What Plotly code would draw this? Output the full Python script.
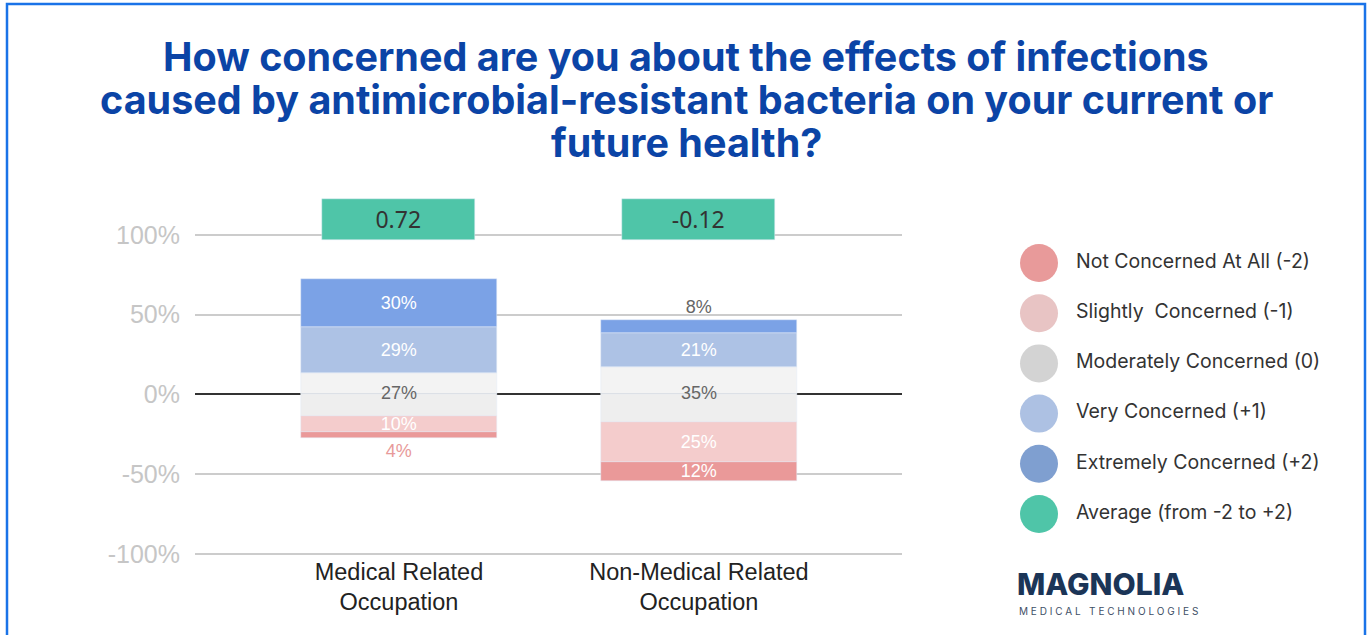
import plotly.graph_objects as go

# ---------------- data ----------------
categories = ["Medical Related<br>Occupation", "Non-Medical Related<br>Occupation"]
not_concerned = [4, 12]
slightly_concerned = [10, 25]
moderately_concerned = [27, 35]
very_concerned = [29, 21]
extremely_concerned = [30, 8]
average_score = [0.72, -0.12]

y_tick_values = [-100, -50, 0, 50, 100]
y_tick_labels = ["-100%", "-50%", "0%", "50%", "100%"]

legend_labels = [
    "Not Concerned At All (-2)",
    "Slightly  Concerned (-1)",
    "Moderately Concerned (0)",
    "Very Concerned (+1)",
    "Extremely Concerned (+2)",
    "Average (from -2 to +2)",
]

# ---------------- styles ----------------
W, H = 1370, 635
ML, MR, MT, MB = 195, 5, 195, 73
PW = W - ML - MR
PH = H - MT - MB
main_frac = 707 / PW

C_NOT = "#ea9999"
C_SLIGHT = "#f4cccc"
C_MOD_UP = "#f3f3f3"
C_MOD_LO = "#eeeeee"
C_VERY = "#adc2e5"
C_EXT = "#7ba2e6"
C_AVG = "#4fc5a8"
LEG_COLORS = ["#e89a9a", "#e8c4c4", "#d3d3d3", "#adc1e3", "#7f9fd0", "#4fc5a8"]

BAR_W = 0.653
AVG_W = 0.51
AVG_BASE = 97
AVG_HEIGHT = 25.6
XR = [-0.68, 1.677]
LABEL_FONT = dict(family="Liberation Sans, Arial", size=18)

xs = list(range(len(categories)))
pct = lambda arr: [f"{v}%" for v in arr]

fig = go.Figure()

# upper half of moderate
fig.add_trace(go.Bar(x=xs, y=[m / 2 for m in moderately_concerned], marker_color=C_MOD_UP,
                     width=BAR_W, hoverinfo="skip"))
fig.add_trace(go.Bar(x=xs, y=very_concerned, marker_color=C_VERY, width=BAR_W,
                     text=pct(very_concerned), textposition="inside", insidetextanchor="middle",
                     textfont=dict(LABEL_FONT, color="white"), constraintext="none"))
fig.add_trace(go.Bar(x=xs, y=extremely_concerned, marker_color=C_EXT, width=BAR_W,
                     text=pct(extremely_concerned), textposition=["inside", "outside"],
                     insidetextanchor="middle",
                     textfont=dict(LABEL_FONT, color=["white", "#666666"]),
                     constraintext="none", cliponaxis=False))
# lower half of moderate
fig.add_trace(go.Bar(x=xs, y=[-m / 2 for m in moderately_concerned], marker_color=C_MOD_LO,
                     width=BAR_W, hoverinfo="skip"))
fig.add_trace(go.Bar(x=xs, y=[-v for v in slightly_concerned], marker_color=C_SLIGHT, width=BAR_W,
                     text=pct(slightly_concerned), textposition="inside", insidetextanchor="middle",
                     textfont=dict(LABEL_FONT, color="white"), constraintext="none"))
fig.add_trace(go.Bar(x=xs, y=[-v for v in not_concerned], marker_color=C_NOT, width=BAR_W,
                     text=pct(not_concerned), textposition=["outside", "inside"],
                     insidetextanchor="middle",
                     textfont=dict(LABEL_FONT, color=["#e89a9a", "white"]),
                     constraintext="none", cliponaxis=False))
# moderate labels at zero
fig.add_trace(go.Scatter(x=xs, y=[0] * len(xs), mode="text", text=pct(moderately_concerned),
                         textposition="middle center",
                         textfont=dict(LABEL_FONT, color="#666666"), hoverinfo="skip"))

# average boxes
fig.add_trace(go.Bar(x=xs, y=[AVG_HEIGHT] * len(xs), base=AVG_BASE, width=AVG_W,
                     marker_color=C_AVG, xaxis="x3", yaxis="y",
                     text=[f"{v:.2f}" for v in average_score], textposition="inside",
                     insidetextanchor="middle", constraintext="none",
                     textfont=dict(family="Noto Sans", size=23, color="#333333")))

# custom legend
leg_idx = list(range(len(legend_labels)))
fig.add_trace(go.Scatter(x=[0] * len(leg_idx), y=leg_idx, mode="markers",
                         marker=dict(size=38, color=LEG_COLORS, line=dict(width=0)),
                         xaxis="x2", yaxis="y2", hoverinfo="skip"))
fig.add_trace(go.Scatter(x=[37] * len(leg_idx), y=leg_idx, mode="text", text=legend_labels,
                         textposition="middle right",
                         textfont=dict(family="Inter", size=19.5, color="#333333"),
                         xaxis="x2", yaxis="y2", hoverinfo="skip"))

leg_x0 = 0.62
leg_px0 = ML + leg_x0 * PW
leg_px1 = ML + PW
leg_center = 1039
leg_top_center, leg_step = 263, 50.2

def py(p):
    return (H - MB - p) / PH

def px(p):
    return (p - ML) / PW

annotations = []
title_lines = [
    ("How concerned are you about the effects of infections", 57),
    ("caused by antimicrobial-resistant bacteria on your current or", 100),
    ("future health?", 143),
]
for txt, yc in title_lines:
    annotations.append(dict(text=txt, xref="paper", yref="paper", x=px(686), y=py(yc),
                            xanchor="center", yanchor="middle", showarrow=False,
                            font=dict(family="Inter", size=39.5, color="#0b44a6", weight=700)))
annotations.append(dict(text="MAGNOLIA", xref="paper", yref="paper", x=px(1015), y=py(584),
                        xanchor="left", yanchor="middle", showarrow=False,
                        font=dict(family="Inter", size=30, color="#1b3557", weight=800)))
annotations.append(dict(text="M E D I C A L   T E C H N O L O G I E S", xref="paper", yref="paper",
                        x=px(1017), y=py(611), xanchor="left", yanchor="middle", showarrow=False,
                        font=dict(family="Inter", size=10, color="#3e4f66")))

fig.update_layout(
    width=W, height=H,
    margin=dict(l=ML, r=MR, t=MT, b=MB),
    paper_bgcolor="white", plot_bgcolor="white",
    barmode="relative",
    showlegend=False,
    bargap=0,
    xaxis=dict(domain=[0, main_frac], range=XR, tickmode="array", tickvals=xs, ticktext=categories,
               showgrid=False, zeroline=False, showline=False, ticks="",
               ticklabelstandoff=-7,
               tickfont=dict(family="Liberation Sans, Arial", size=23.5, color="#222222")),
    xaxis3=dict(overlaying="x", range=XR, visible=False),
    yaxis=dict(range=[-105, 125], tickmode="array", tickvals=y_tick_values, ticktext=y_tick_labels,
               showgrid=True, gridcolor="#cccccc", gridwidth=2,
               zeroline=True, zerolinecolor="#333333", zerolinewidth=2,
               ticklabelstandoff=14,
               tickfont=dict(family="Liberation Sans, Arial", size=25, color="#c6c6c6")),
    xaxis2=dict(domain=[leg_x0, 1], range=[leg_px0 - leg_center, leg_px1 - leg_center],
                visible=False, fixedrange=True),
    yaxis2=dict(anchor="x2", range=[(H - MB - leg_top_center) / leg_step, (MT - leg_top_center) / leg_step],
                visible=False, fixedrange=True),
    annotations=annotations,
    shapes=[dict(type="rect", xref="paper", yref="paper",
                 x0=px(7), x1=px(1365), y0=py(645), y1=py(4),
                 line=dict(color="#1a73e8", width=2.5), fillcolor="rgba(0,0,0,0)", layer="above")],
)

fig.write_html("out.html")
